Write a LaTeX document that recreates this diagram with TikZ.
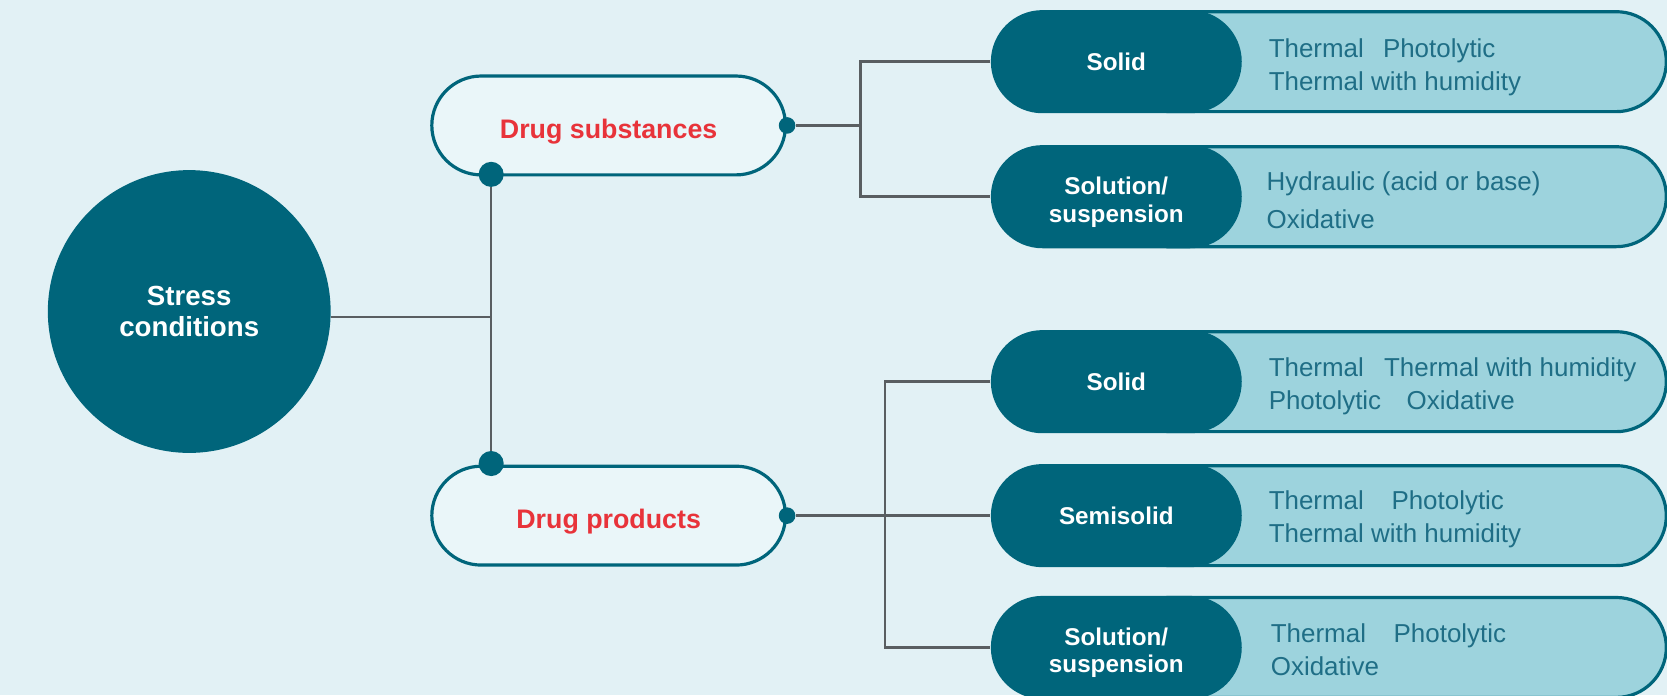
\documentclass[tikz,border=0pt]{standalone}
\usepackage{fontspec}
\setmainfont{Liberation Sans}
\usetikzlibrary{positioning,shapes.misc}
\pgfdeclarelayer{bands}
\pgfsetlayers{bands,main}

\definecolor{petrol}{HTML}{00657B}
\definecolor{aqua}{HTML}{9DD3DD}
\definecolor{bgblue}{HTML}{E2F1F5}
\definecolor{pale}{HTML}{EAF6F9}
\definecolor{drugred}{HTML}{E8333A}
\definecolor{wiregrey}{HTML}{595E61}
\definecolor{itemtext}{HTML}{1F6E86}

\begin{document}
\begin{tikzpicture}[x=0.5pt,y=-0.5pt,node distance=63pt,on grid,
  root/.style={circle, fill=petrol, minimum size=133pt, inner sep=0pt, text=white, align=center, font=\bfseries\fontsize{13}{15}\selectfont},
  drug/.style={rounded rectangle, draw=petrol, line width=1.5pt, fill=pale, minimum width=173pt, minimum height=46.5pt, text height=14.2pt, text depth=2pt, text=drugred, font=\bfseries\fontsize{12.6}{15}\selectfont},
  form/.style={rounded rectangle, fill=petrol, minimum width=118pt, minimum height=48.5pt, inner sep=0pt, text=white, align=center, font=\bfseries\fontsize{11.4}{13}\selectfont},
  twoline/.style={text height=26.3pt},
  band/.style={rounded rectangle, rounded rectangle left arc=none, draw=petrol, line width=1.5pt, fill=aqua, minimum width=241pt, minimum height=47pt},
  effects/.style={anchor=west, inner sep=0pt, text=itemtext, align=left, font=\fontsize{12.2}{15.5}\selectfont},
  wire/.style={draw=wiregrey, line width=1.2pt},
  joint/.style={circle, fill=petrol, inner sep=0pt, minimum size=#1}]

  \useasboundingbox (0,0) rectangle (1568,654);

  \node[root] (stress) at (178,293) {Stress\\conditions};
  \node[drug] (ds) at (572.5,118) {Drug substances};
  \node[drug] (dp) at (572.5,485) {Drug products};

  % drug substances branch
  \node[form] (ds_solid) at (1050,58) {Solid};
  \node[form, twoline] (ds_sol) [below=63.5pt of ds_solid] {Solution/\\suspension};
  % drug products branch
  \node[form] (dp_solid) at (1050,359) {Solid};
  \node[form] (dp_semi) [below=of dp_solid] {Semisolid};
  \node[form, twoline] (dp_sol) [below=62pt of dp_semi] {Solution/\\suspension};

  \begin{pgfonlayer}{bands}
    \fill[bgblue] (0,0) rectangle (1568,654);
    \foreach \f in {ds_solid,ds_sol,dp_solid,dp_semi,dp_sol}
      \node[band] (\f_band) [right=141.5pt of \f] {};
  \end{pgfonlayer}

  \node[effects] (ds_solid_fx) at ([xshift=71.5pt,yshift=-2.5pt]ds_solid) {Thermal\hspace{9pt}Photolytic\\Thermal with humidity};
  \node[effects] (ds_sol_fx) at ([xshift=70.5pt,yshift=-1.5pt]ds_sol) {Hydraulic (acid or base)\\[2.5pt]Oxidative};
  \node[effects] (dp_solid_fx) at ([xshift=71.5pt,yshift=-2.25pt]dp_solid) {Thermal\hspace{9.5pt}Thermal with humidity\\Photolytic\hspace{12pt}Oxidative};
  \node[effects] (dp_semi_fx) at ([xshift=71.5pt,yshift=-1.5pt]dp_semi) {Thermal\hspace{13pt}Photolytic\\Thermal with humidity};
  \node[effects] (dp_sol_fx) at ([xshift=72.5pt,yshift=-1pt]dp_sol) {Thermal\hspace{13pt}Photolytic\\Oxidative};

  % joints
  \node[joint=11.8pt] (ds_dot) at (462,164) {};
  \node[joint=11.8pt] (dp_dot) at (462,436) {};
  \node[joint=7.8pt] (ds_end) at (ds.east) {};
  \node[joint=7.8pt] (dp_end) at (dp.east) {};

  % connectors
  \draw[wire] ([yshift=-2.5pt]stress.east) -- ([yshift=-2.5pt]stress.east -| ds_dot);
  \draw[wire] (ds_dot) -- (dp_dot);
  \draw[wire] (ds_end) -- ++(34.5pt,0) coordinate (ds_fork);
  \draw[wire] (ds_solid.west) -| (ds_fork) |- (ds_sol.west);
  \coordinate (dp_fork) at ([xshift=46pt]dp.east);
  \draw[wire] (dp_end) -- (dp_semi.west);
  \draw[wire] (dp_solid.west) -| (dp_fork) |- (dp_sol.west);
\end{tikzpicture}
\end{document}
